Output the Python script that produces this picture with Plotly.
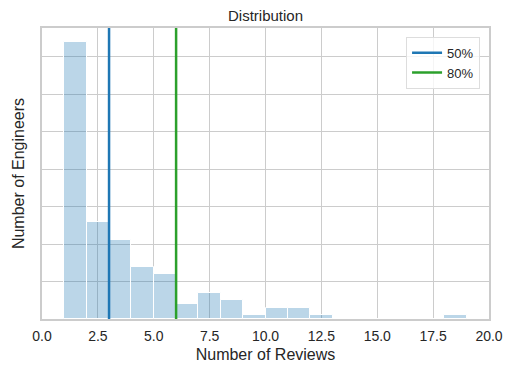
import plotly.graph_objects as go

# Data
bin_edges = list(range(1, 20))  # 1..19, bin width 1
counts = [74, 26, 21, 14, 12, 4, 7, 5, 1, 3, 3, 1, 0, 0, 0, 0, 0, 1]
pct_labels = ["50%", "80%"]
pct_values = [3, 6]
pct_colors = ["#1f77b4", "#2ca02c"]
x_ticks = [0, 2.5, 5, 7.5, 10, 12.5, 15, 17.5, 20]
x_tick_text = ["0.0", "2.5", "5.0", "7.5", "10.0", "12.5", "15.0", "17.5", "20.0"]

ymax = max(counts) * 1.05

centers = [(bin_edges[i] + bin_edges[i + 1]) / 2 for i in range(len(counts))]
widths = [bin_edges[i + 1] - bin_edges[i] for i in range(len(counts))]

fig = go.Figure()
fig.add_trace(go.Bar(
    x=centers, y=counts, width=widths,
    marker=dict(color="rgba(31,119,180,0.3)", line=dict(color="white", width=1)),
    showlegend=False, hoverinfo="skip",
))
for lab, v, c in zip(pct_labels, pct_values, pct_colors):
    fig.add_trace(go.Scatter(
        x=[v, v], y=[0, ymax], mode="lines", name=lab,
        line=dict(color=c, width=2.5),
    ))

# page body has an 8px default margin; size figure accordingly
W, H = 505, 367
font_family = "Liberation Sans, Arial, sans-serif"
fig.update_layout(
    width=W, height=H,
    margin=dict(l=34, r=24, t=20, b=56),
    paper_bgcolor="white", plot_bgcolor="white",
    font=dict(family=font_family, color="#262626", size=13),
    title=dict(text="Distribution", x=0.5, xanchor="center", y=1 - 8 / H, yanchor="middle",
               xref="paper", font=dict(size=15, color="#262626")),
    bargap=0,
    legend=dict(x=0.98, y=0.97, xanchor="right", yanchor="top",
                bgcolor="rgba(255,255,255,0.8)", bordercolor="#dddddd", borderwidth=1,
                font=dict(size=13), itemwidth=30, tracegroupgap=0),
    xaxis=dict(range=[0, 20], tickvals=x_ticks, ticktext=x_tick_text,
               showgrid=True, gridcolor="#cccccc", gridwidth=1,
               showline=True, linecolor="#cccccc", linewidth=1.5, mirror=True,
               zeroline=False, ticks="outside", ticklen=3, tickcolor="rgba(0,0,0,0)",
               tickfont=dict(size=14), automargin=False,
               title=dict(text="Number of Reviews", font=dict(size=16), standoff=6)),
    yaxis=dict(range=[0, ymax], dtick=10, showticklabels=False,
               showgrid=True, gridcolor="#cccccc", gridwidth=1,
               showline=True, linecolor="#cccccc", linewidth=1.5, mirror=True,
               zeroline=False, ticks="", automargin=False,
               title=dict(text="Number of Engineers", font=dict(size=16), standoff=12)),
)
fig.write_html("out.html")
